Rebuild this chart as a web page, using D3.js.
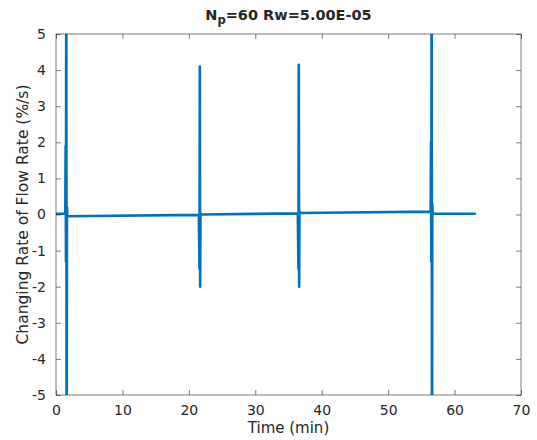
<!DOCTYPE html>
<html>
<head>
<meta charset="utf-8">
<script src="https://cdn.jsdelivr.net/npm/d3@7"></script>
<style>
  body { margin: 0; background: #fff; }
  text { font-family: 'DejaVu Sans', sans-serif; fill: #262626; }
</style>
</head>
<body>
<div id="chart"></div>
<script>
// time (min) and changing rate of flow rate (%/s); spikes beyond +-5 are clipped by the axes
const timeMin = [0, 1.4, 1.45, 1.5, 1.55, 1.6, 1.65, 1.7,
  21.5, 21.6, 21.65, 21.7, 21.75, 21.8,
  36.4, 36.5, 36.55, 36.6, 36.65, 36.7,
  56.4, 56.45, 56.5, 56.55, 56.6, 56.65, 56.7, 63.2];
const rate = [0.02, 0.02, 1.9, -1.3, 8, -8, 0.2, -0.05,
  -0.01, -1.5, 4.1, -2.0, 0.05, 0.0,
  0.03, -1.5, 4.15, -2.0, 0.1, 0.04,
  0.08, 2.0, -1.3, 8, -8, 0.3, 0.02, 0.02];
const xTicks = [0, 10, 20, 30, 40, 50, 60, 70];
const yTicks = [-5, -4, -3, -2, -1, 0, 1, 2, 3, 4, 5];

const dimensions = {
  width: 537,
  height: 440,
  margin: { top: 34, bottom: 45, left: 56, right: 16 }
};
dimensions.containerWidth = dimensions.width - dimensions.margin.left - dimensions.margin.right;
dimensions.containerHeight = dimensions.height - dimensions.margin.top - dimensions.margin.bottom;

const svg = d3.select('#chart')
  .append('svg')
  .attr('width', dimensions.width)
  .attr('height', dimensions.height);

const container = svg.append('g')
  .attr('transform', `translate(${dimensions.margin.left}, ${dimensions.margin.top})`);

const xScale = d3.scaleLinear()
  .domain([0, 70])
  .range([0, dimensions.containerWidth]);

const yScale = d3.scaleLinear()
  .domain([-5, 5])
  .range([dimensions.containerHeight, 0]);

svg.append('defs').append('clipPath')
  .attr('id', 'clip')
  .append('rect')
  .attr('width', dimensions.containerWidth)
  .attr('height', dimensions.containerHeight);

const lineGen = d3.line()
  .x((d, i) => xScale(timeMin[i]))
  .y((d) => yScale(d));

container.append('path')
  .datum(rate)
  .attr('clip-path', 'url(#clip)')
  .attr('fill', 'none')
  .attr('stroke', '#0072BD')
  .attr('stroke-width', 2.6)
  .attr('stroke-linejoin', 'round')
  .attr('d', lineGen);

// axes, MATLAB style: ticks inside, box around
const plainMinus = (d) => String(d);

const styleAxis = (g) => {
  g.select('.domain').remove();
  g.selectAll('.tick line').attr('stroke', '#262626').attr('stroke-width', 0.6);
  g.selectAll('.tick text').style('font-size', '14px').attr('fill', '#262626');
};

container.append('g')
  .attr('transform', `translate(0, ${dimensions.containerHeight})`)
  .call(d3.axisBottom(xScale).tickValues(xTicks).tickSizeInner(-5).tickSizeOuter(0).tickPadding(10).tickFormat(plainMinus))
  .call(styleAxis);

container.append('g')
  .call(d3.axisTop(xScale).tickValues(xTicks).tickSizeInner(-5).tickSizeOuter(0).tickFormat(''))
  .call(styleAxis);

container.append('g')
  .call(d3.axisLeft(yScale).tickValues(yTicks).tickSizeInner(-5).tickSizeOuter(0).tickPadding(10).tickFormat(plainMinus))
  .call(styleAxis);

container.append('g')
  .attr('transform', `translate(${dimensions.containerWidth}, 0)`)
  .call(d3.axisRight(yScale).tickValues(yTicks).tickSizeInner(-5).tickSizeOuter(0).tickFormat(''))
  .call(styleAxis);

container.append('rect')
  .attr('width', dimensions.containerWidth)
  .attr('height', dimensions.containerHeight)
  .attr('fill', 'none')
  .attr('stroke', '#262626')
  .attr('stroke-width', 0.6);

svg.append('text')
  .attr('x', dimensions.margin.left + dimensions.containerWidth / 2)
  .attr('y', dimensions.height - 7)
  .attr('text-anchor', 'middle')
  .style('font-size', '15px')
  .text('Time (min)');

svg.append('text')
  .attr('transform', `translate(28, ${dimensions.margin.top + dimensions.containerHeight / 2}) rotate(-90)`)
  .attr('text-anchor', 'middle')
  .style('font-size', '15.5px')
  .text('Changing Rate of Flow Rate (%/s)');

const title = svg.append('text')
  .attr('x', dimensions.margin.left + dimensions.containerWidth / 2)
  .attr('y', 20)
  .attr('text-anchor', 'middle')
  .style('font-size', '14.5px')
  .style('font-weight', 'bold');
title.append('tspan').text('N');
title.append('tspan').attr('dy', 4).style('font-size', '11.5px').text('p');
title.append('tspan').attr('dy', -4).text('=60 Rw=5.00E-05');
</script>
</body>
</html>
